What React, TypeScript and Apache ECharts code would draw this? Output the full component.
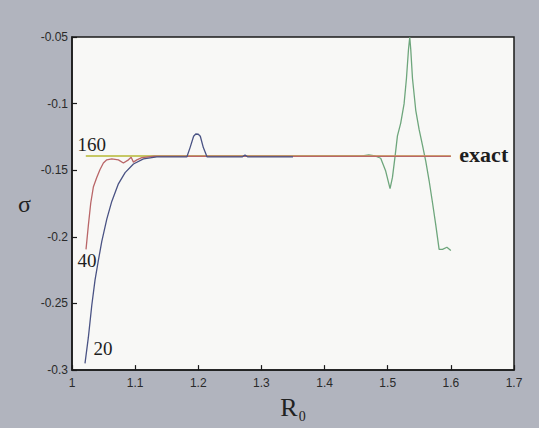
import React, { useEffect, useRef } from "react";
import * as echarts from "echarts";

// exact solution
const exactR = [1.022, 1.6];
const exactS = [-0.1393, -0.1393];

// 20 elements
const r20 = [1.0206, 1.0259, 1.0313, 1.0365, 1.0417, 1.0471, 1.0551, 1.063, 1.0735, 1.0841, 1.0973, 1.1132, 1.1344, 1.182, 1.187, 1.1926, 1.196, 1.2, 1.2032, 1.208, 1.2138, 1.27, 1.274, 1.278, 1.35];
const s20 = [-0.295, -0.2755, -0.2515, -0.2323, -0.2179, -0.2035, -0.1867, -0.1734, -0.1602, -0.1518, -0.1453, -0.1415, -0.1399, -0.1399, -0.133, -0.1245, -0.1228, -0.123, -0.1245, -0.133, -0.1399, -0.1399, -0.1385, -0.1399, -0.1399];

// 40 elements
const r40 = [1.0222, 1.0259, 1.0297, 1.0338, 1.0392, 1.0444, 1.0497, 1.0551, 1.063, 1.0735, 1.0814, 1.0894, 1.0937, 1.0973, 1.1027, 1.1106, 1.13, 1.6];
const s40 = [-0.2094, -0.1914, -0.1746, -0.1626, -0.1554, -0.1494, -0.1446, -0.1422, -0.1415, -0.1422, -0.1446, -0.1422, -0.1403, -0.1439, -0.1422, -0.1405, -0.1395, -0.1395];

// 160 elements
const r160 = [1.022, 1.46, 1.47, 1.48, 1.4889, 1.4968, 1.5037, 1.5075, 1.5116, 1.5154, 1.5206, 1.5259, 1.5297, 1.5329, 1.5349, 1.5365, 1.5392, 1.5444, 1.5497, 1.5551, 1.5603, 1.5656, 1.571, 1.5762, 1.5814, 1.5868, 1.5937, 1.6];
const s160 = [-0.1393, -0.1393, -0.1385, -0.1393, -0.141, -0.1506, -0.1638, -0.1554, -0.1398, -0.1242, -0.1146, -0.1002, -0.081, -0.0594, -0.0502, -0.0594, -0.081, -0.105, -0.1194, -0.1314, -0.1434, -0.1579, -0.1746, -0.1914, -0.2094, -0.2094, -0.2078, -0.2102];

const zip = (a: number[], b: number[]) => a.map((v, i) => [v, b[i]]);

const SERIF = "Liberation Serif, Times New Roman, serif";

export default function App() {
  const ref = useRef<HTMLDivElement>(null);
  useEffect(() => {
    if (!ref.current) return;
    const chart = echarts.init(ref.current, undefined, { renderer: "svg" });
    const tag = (coord: number[], text: string, offset: number[], bold = false) => ({
      symbol: "circle",
      symbolSize: 1,
      silent: true,
      itemStyle: { color: "rgba(0,0,0,0)" },
      label: {
        show: true,
        formatter: text,
        position: "right",
        distance: 0,
        offset,
        color: "#1e1e1e",
        fontFamily: SERIF,
        fontSize: bold ? 22 : 19,
        fontWeight: bold ? "bold" : "normal",
      },
      data: [{ coord }],
    });
    const mkLine = (data: number[][], color: string, markPoint: any) => ({
      type: "line",
      data,
      showSymbol: false,
      lineStyle: { color, width: 1.3 },
      markPoint,
    });
    chart.setOption({
      animation: false,
      backgroundColor: "#b1b4be",
      grid: {
        left: 72,
        top: 37,
        width: 442,
        height: 347,
        show: true,
        backgroundColor: "#f8f8f6",
        borderColor: "#1a1a1a",
        borderWidth: 1.5,
      },
      xAxis: [
        {
          type: "value",
          min: 1,
          max: 1.7,
          interval: 0.1,
          splitLine: { show: false },
          axisLine: { show: true, onZero: false, lineStyle: { color: "#1a1a1a", width: 1.5 } },
          axisTick: { show: true, inside: true, length: 5, lineStyle: { color: "#1a1a1a", width: 1.2 } },
          axisLabel: { color: "#2a2a2a", fontSize: 12, margin: 7 },
          name: "{r|R}{s|0}",
          nameLocation: "middle",
          nameGap: 14,
          nameTextStyle: {
            rich: {
              r: { fontFamily: SERIF, fontSize: 26, color: "#222", verticalAlign: "bottom" },
              s: { fontFamily: SERIF, fontSize: 14, color: "#222", verticalAlign: "bottom", padding: [0, 0, -3, 1] },
            },
          },
        },
      ],
      yAxis: [
        {
          type: "value",
          min: -0.3,
          max: -0.05,
          interval: 0.05,
          splitLine: { show: false },
          axisLine: { show: true, onZero: false, lineStyle: { color: "#1a1a1a", width: 1.5 } },
          axisTick: { show: true, inside: true, length: 5, lineStyle: { color: "#1a1a1a", width: 1.2 } },
          axisLabel: { color: "#2a2a2a", fontSize: 12, margin: 4 },
          name: "σ",
          nameLocation: "middle",
          nameRotate: 0,
          nameGap: 41,
          nameTextStyle: { fontFamily: SERIF, fontSize: 24, color: "#222" },
        },
      ],
      series: [
        mkLine(zip(r160, s160), "#6ea67c", tag([r160[0], s160[0]], "160", [-9, -11])),
        mkLine(zip(exactR, exactS), "#d8cc52", tag([exactR[1], exactS[1]], "exact", [8, -1], true)),
        mkLine(zip(r40, s40), "#b96668", tag([r40[0], s40[0]], "40", [-9, 11])),
        mkLine(zip(r20, s20), "#4a5384", tag([r20[0], s20[0]], "20", [8, -15])),
      ],
    });
    return () => chart.dispose();
  }, []);
  return <div ref={ref} style={{ position: "absolute", left: 0, top: 0, width: 539, height: 428 }} />;
}
